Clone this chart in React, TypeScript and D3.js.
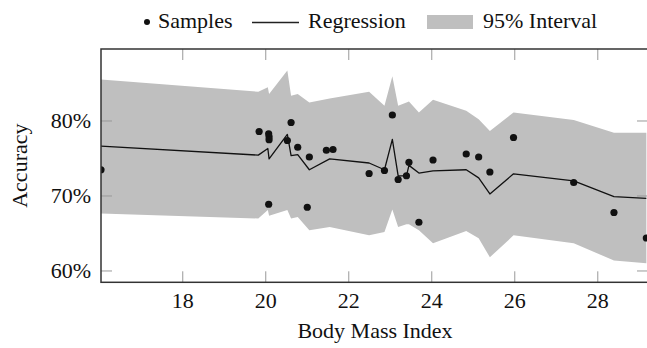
import * as d3 from 'd3'

// ── Data ───────────────────────────────────────────────────────────────────
const sampleBmi = [16.03, 19.84, 20.07, 20.08, 20.08, 20.07, 20.52, 20.61, 20.77, 21.0, 21.05, 21.46, 21.62, 22.49, 22.86, 23.05, 23.19, 23.39, 23.45, 23.69, 24.03, 24.83, 25.13, 25.4, 25.97, 27.42, 28.39, 29.17]
const sampleAcc = [73.5, 78.6, 78.3, 77.9, 77.5, 68.9, 77.4, 79.8, 76.5, 68.5, 75.2, 76.1, 76.2, 73.0, 73.4, 80.8, 72.2, 72.7, 74.5, 66.5, 74.8, 75.6, 75.2, 73.2, 77.8, 71.8, 67.8, 64.4]

const fitBmi = [16.03, 19.82, 20.05, 20.08, 20.52, 20.61, 20.77, 21.05, 21.54, 22.49, 22.86, 23.05, 23.19, 23.39, 23.45, 23.69, 24.03, 24.83, 25.13, 25.4, 25.97, 27.42, 28.39, 29.17]
const fitMean = [76.64, 75.45, 76.33, 74.94, 78.21, 75.38, 75.52, 73.5, 74.94, 74.4, 73.5, 77.54, 72.69, 72.69, 74.08, 73.06, 73.36, 73.5, 72.42, 70.27, 72.96, 72.02, 69.91, 69.69]
const fitLower = [67.67, 67.0, 68.12, 67.35, 68.12, 67.0, 67.21, 65.42, 65.87, 64.75, 65.2, 68.21, 65.87, 66.23, 66.23, 65.42, 63.71, 65.33, 64.35, 61.83, 64.75, 63.71, 61.39, 61.02]
const fitUpper = [85.52, 83.9, 84.5, 83.59, 86.73, 83.36, 83.59, 82.48, 83.01, 83.9, 82.02, 85.98, 82.02, 82.48, 82.61, 81.13, 82.83, 81.35, 80.23, 78.65, 81.13, 80.13, 78.44, 78.44]

const xTicks = [18, 20, 22, 24, 26, 28]
const yTicks = [60, 70, 80]

const W = 647, H = 348
const left = 101, right = 648, top = 49, bottom = 282.3
const FONT = "'Liberation Serif', 'DejaVu Serif', serif"
const BAND = '#bfbfbf'

export default function App() {
  const x = d3.scaleLinear().domain([16.03, 29.21]).range([left, right])
  const y = d3.scaleLinear().domain([58.49, 89.6]).range([bottom, top])

  const fit = fitBmi.map((b, i) => ({ b, m: fitMean[i], lo: fitLower[i], hi: fitUpper[i] }))
  const area = d3.area<typeof fit[number]>().x(d => x(d.b)).y0(d => y(d.lo)).y1(d => y(d.hi))
  const line = d3.line<typeof fit[number]>().x(d => x(d.b)).y(d => y(d.m))

  const tickLen = 11

  return (
    <svg width={W} height={H} style={{ position: 'absolute', left: 0, top: 0, background: '#fff', fontFamily: FONT }}>
      <defs>
        <clipPath id="plot">
          <rect x={left} y={top} width={right - left} height={bottom - top} />
        </clipPath>
      </defs>

      {/* legend */}
      <g style={{ fontSize: 22 }} fill="#111">
        <circle cx={147} cy={22} r={3} fill="#111" />
        <text x={158} y={28}>Samples</text>
        <line x1={252} x2={299} y1={22.5} y2={22.5} stroke="#222" strokeWidth={1.3} />
        <text x={308} y={28}>Regression</text>
        <rect x={427} y={15} width={46} height={14} fill={BAND} />
        <text x={483} y={28}>95% Interval</text>
      </g>

      <g clipPath="url(#plot)">
        <path d={area(fit) ?? ''} fill={BAND} />
        <path d={line(fit) ?? ''} fill="none" stroke="#111" strokeWidth={1.3} strokeLinejoin="round" />
        {sampleBmi.map((b, i) => (
          <circle key={i} cx={x(b)} cy={y(sampleAcc[i])} r={3.6} fill="#111" />
        ))}
      </g>

      {/* ticks on all four sides, pointing inward */}
      <g stroke="#999" strokeWidth={1}>
        {xTicks.map(t => (
          <g key={'x' + t}>
            <line x1={x(t)} x2={x(t)} y1={bottom} y2={bottom - tickLen} />
            <line x1={x(t)} x2={x(t)} y1={top} y2={top + tickLen} />
          </g>
        ))}
        {yTicks.map(t => (
          <g key={'y' + t}>
            <line x1={left} x2={left + tickLen} y1={y(t)} y2={y(t)} />
            <line x1={right} x2={right - tickLen} y1={y(t)} y2={y(t)} />
          </g>
        ))}
      </g>

      <rect x={left} y={top} width={right - left} height={bottom - top} fill="none" stroke="#333" strokeWidth={1.5} />

      <g style={{ fontSize: 22 }} fill="#111">
        {xTicks.map(t => (
          <text key={t} x={x(t)} y={308} textAnchor="middle">{t}</text>
        ))}
        {yTicks.map(t => (
          <text key={t} x={91} y={y(t) + 7} textAnchor="end">{t}%</text>
        ))}
        <text x={375} y={338} textAnchor="middle">Body Mass Index</text>
        <text transform={`translate(27,${(top + bottom) / 2}) rotate(-90)`} textAnchor="middle">Accuracy</text>
      </g>
    </svg>
  )
}
